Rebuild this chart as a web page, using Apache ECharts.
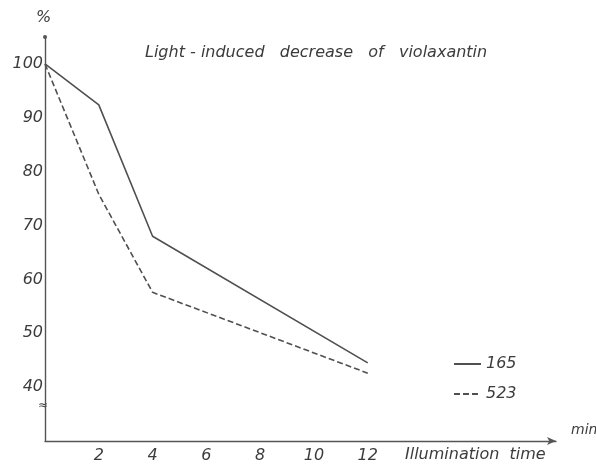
<!DOCTYPE html>
<html>
<head>
<meta charset="utf-8">
<script src="https://cdn.jsdelivr.net/npm/echarts@6/dist/echarts.min.js"></script>
<style>html,body{margin:0;padding:0;background:#fff;}#c{width:596px;height:466px;}</style>
</head>
<body>
<div id="c"></div>
<script>
var xValues = [0, 2, 4, 12];
var series165 = [100, 92.4, 68, 44.5];
var series523 = [100, 75.8, 57.6, 42.6];
var yTickLabels = [40, 50, 60, 70, 80, 90, 100];
var xTickLabels = [2, 4, 6, 8, 10, 12];
var seriesNames = ['165', '523'];

var ink = '#3c3c3c';
var font = 'DejaVu Sans';
var chart = echarts.init(document.getElementById('c'));
chart.setOption({
  backgroundColor: '#fff',
  animation: false,
  grid: {left: 45, right: 40, top: 37, bottom: 25},
  legend: {
    orient: 'vertical', left: 448, top: 351, itemWidth: 27, itemHeight: 10, itemGap: 14,
    itemStyle: {opacity: 0},
    textStyle: {fontFamily: font, fontStyle: 'italic', fontSize: 16, color: ink},
    data: seriesNames
  },
  xAxis: {
    type: 'value', min: 0, max: 19, interval: 1,
    axisLine: {lineStyle: {color: '#555', width: 1.4}, symbol: ['none', 'arrow'], symbolSize: [6, 9]},
    axisTick: {show: false},
    splitLine: {show: false},
    axisLabel: {
      fontFamily: font, fontStyle: 'italic', fontSize: 16, color: ink, margin: 7,
      formatter: function (v) { return xTickLabels.indexOf(v) >= 0 ? String(v) : ''; }
    }
  },
  yAxis: {
    type: 'value', min: 30, max: 105, interval: 10,
    axisLine: {show: true, lineStyle: {color: '#555', width: 1.4}, symbol: ['none', 'circle'], symbolSize: [4, 4]},
    axisTick: {show: false},
    splitLine: {show: false},
    axisLabel: {
      fontFamily: font, fontStyle: 'italic', fontSize: 16, color: ink, margin: 2,
      formatter: function (v) { return yTickLabels.indexOf(v) >= 0 ? String(v) : ''; }
    }
  },
  series: [
    {name: seriesNames[0], type: 'line', symbol: 'none',
     lineStyle: {color: '#505050', width: 1.6, type: 'solid'}, itemStyle: {color: '#505050'},
     data: xValues.map(function (x, i) { return [x, series165[i]]; })},
    {name: seriesNames[1], type: 'line', symbol: 'none',
     lineStyle: {color: '#505050', width: 1.6, type: [6, 3]}, itemStyle: {color: '#505050'},
     data: xValues.map(function (x, i) { return [x, series523[i]]; })}
  ],
  graphic: [
    {type: 'text', left: 145, top: 45, style: {text: 'Light - induced   decrease   of   violaxantin', font: 'italic 16px "DejaVu Sans"', fill: ink}},
    {type: 'text', left: 36, top: 10, style: {text: '%', font: 'italic 16px "DejaVu Sans"', fill: ink}},
    {type: 'text', left: 571, top: 423, style: {text: 'min', font: 'italic 14px "DejaVu Sans"', fill: ink}},
    {type: 'text', left: 405, top: 447, style: {text: 'Illumination  time', font: 'italic 16px "DejaVu Sans"', fill: ink}},
    {type: 'text', left: 38, top: 400, style: {text: '≈', font: '12px "DejaVu Sans"', fill: ink}}
  ]
});
</script>
</body>
</html>
